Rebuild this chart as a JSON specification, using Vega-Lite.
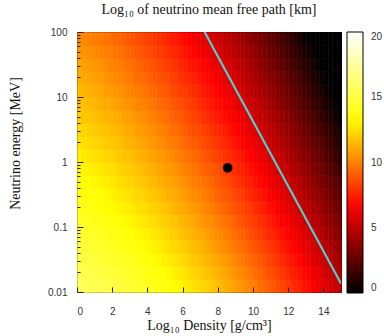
{
  "$schema": "https://vega.github.io/schema/vega-lite/v6.json",
  "width": 264,
  "height": 260,
  "autosize": "none",
  "padding": {"left": 77, "top": 32, "right": 43, "bottom": 44},
  "background": "white",
  "view": {"stroke": "#000", "strokeWidth": 1},
  "title": {"text": "Log₁₀ of neutrino mean free path [km]", "font": "Liberation Serif, DejaVu Serif, serif", "fontSize": 14, "fontWeight": "normal", "color": "#111", "anchor": "middle", "frame": "group", "offset": 10},
  "config": {
    "axis": {"domain": false, "grid": false, "labelFont": "Liberation Sans", "labelFontSize": 10, "labelColor": "#333", "tickColor": "#222", "labelOverlap": false, "titleFont": "Liberation Serif, DejaVu Serif, serif", "titleFontSize": 14, "titleFontWeight": "normal", "titleColor": "#111"}
  },
  "resolve": {"axis": {"x": "independent", "y": "independent"}},
  "layer": [
    {
      "data": {"values": [
{"d":0,"e":-2,"v":15.7},{"d":0,"e":-1.8,"v":15.4},{"d":0,"e":-1.6,"v":15.1},{"d":0,"e":-1.4,"v":14.8},{"d":0,"e":-1.2,"v":14.6},{"d":0,"e":-1,"v":14.3},{"d":0,"e":-0.8,"v":14.0},{"d":0,"e":-0.6,"v":13.7},{"d":0,"e":-0.4,"v":13.4},{"d":0,"e":-0.2,"v":13.1},{"d":0,"e":0,"v":12.9},{"d":0,"e":0.2,"v":12.6},{"d":0,"e":0.4,"v":12.3},{"d":0,"e":0.6,"v":12.0},{"d":0,"e":0.8,"v":11.7},{"d":0,"e":1,"v":11.5},{"d":0,"e":1.2,"v":11.2},{"d":0,"e":1.4,"v":10.9},{"d":0,"e":1.6,"v":10.6},{"d":0,"e":1.8,"v":10.3},
{"d":0.25,"e":-2,"v":15.6},{"d":0.25,"e":-1.8,"v":15.3},{"d":0.25,"e":-1.6,"v":15.0},{"d":0.25,"e":-1.4,"v":14.8},{"d":0.25,"e":-1.2,"v":14.5},{"d":0.25,"e":-1,"v":14.2},{"d":0.25,"e":-0.8,"v":13.9},{"d":0.25,"e":-0.6,"v":13.6},{"d":0.25,"e":-0.4,"v":13.3},{"d":0.25,"e":-0.2,"v":13.1},{"d":0.25,"e":0,"v":12.8},{"d":0.25,"e":0.2,"v":12.5},{"d":0.25,"e":0.4,"v":12.2},{"d":0.25,"e":0.6,"v":11.9},{"d":0.25,"e":0.8,"v":11.7},{"d":0.25,"e":1,"v":11.4},{"d":0.25,"e":1.2,"v":11.1},{"d":0.25,"e":1.4,"v":10.8},{"d":0.25,"e":1.6,"v":10.5},{"d":0.25,"e":1.8,"v":10.2},
{"d":0.5,"e":-2,"v":15.5},{"d":0.5,"e":-1.8,"v":15.2},{"d":0.5,"e":-1.6,"v":15.0},{"d":0.5,"e":-1.4,"v":14.7},{"d":0.5,"e":-1.2,"v":14.4},{"d":0.5,"e":-1,"v":14.1},{"d":0.5,"e":-0.8,"v":13.8},{"d":0.5,"e":-0.6,"v":13.5},{"d":0.5,"e":-0.4,"v":13.3},{"d":0.5,"e":-0.2,"v":13.0},{"d":0.5,"e":0,"v":12.7},{"d":0.5,"e":0.2,"v":12.4},{"d":0.5,"e":0.4,"v":12.1},{"d":0.5,"e":0.6,"v":11.8},{"d":0.5,"e":0.8,"v":11.6},{"d":0.5,"e":1,"v":11.3},{"d":0.5,"e":1.2,"v":11.0},{"d":0.5,"e":1.4,"v":10.7},{"d":0.5,"e":1.6,"v":10.4},{"d":0.5,"e":1.8,"v":10.1},
{"d":0.75,"e":-2,"v":15.4},{"d":0.75,"e":-1.8,"v":15.2},{"d":0.75,"e":-1.6,"v":14.9},{"d":0.75,"e":-1.4,"v":14.6},{"d":0.75,"e":-1.2,"v":14.3},{"d":0.75,"e":-1,"v":14.0},{"d":0.75,"e":-0.8,"v":13.7},{"d":0.75,"e":-0.6,"v":13.5},{"d":0.75,"e":-0.4,"v":13.2},{"d":0.75,"e":-0.2,"v":12.9},{"d":0.75,"e":0,"v":12.6},{"d":0.75,"e":0.2,"v":12.3},{"d":0.75,"e":0.4,"v":12.0},{"d":0.75,"e":0.6,"v":11.7},{"d":0.75,"e":0.8,"v":11.5},{"d":0.75,"e":1,"v":11.2},{"d":0.75,"e":1.2,"v":10.9},{"d":0.75,"e":1.4,"v":10.6},{"d":0.75,"e":1.6,"v":10.3},{"d":0.75,"e":1.8,"v":10.0},
{"d":1,"e":-2,"v":15.4},{"d":1,"e":-1.8,"v":15.1},{"d":1,"e":-1.6,"v":14.8},{"d":1,"e":-1.4,"v":14.5},{"d":1,"e":-1.2,"v":14.2},{"d":1,"e":-1,"v":13.9},{"d":1,"e":-0.8,"v":13.6},{"d":1,"e":-0.6,"v":13.4},{"d":1,"e":-0.4,"v":13.1},{"d":1,"e":-0.2,"v":12.8},{"d":1,"e":0,"v":12.5},{"d":1,"e":0.2,"v":12.2},{"d":1,"e":0.4,"v":11.9},{"d":1,"e":0.6,"v":11.6},{"d":1,"e":0.8,"v":11.4},{"d":1,"e":1,"v":11.1},{"d":1,"e":1.2,"v":10.8},{"d":1,"e":1.4,"v":10.5},{"d":1,"e":1.6,"v":10.2},{"d":1,"e":1.8,"v":9.9},
{"d":1.25,"e":-2,"v":15.3},{"d":1.25,"e":-1.8,"v":15.0},{"d":1.25,"e":-1.6,"v":14.7},{"d":1.25,"e":-1.4,"v":14.4},{"d":1.25,"e":-1.2,"v":14.1},{"d":1.25,"e":-1,"v":13.8},{"d":1.25,"e":-0.8,"v":13.5},{"d":1.25,"e":-0.6,"v":13.3},{"d":1.25,"e":-0.4,"v":13.0},{"d":1.25,"e":-0.2,"v":12.7},{"d":1.25,"e":0,"v":12.4},{"d":1.25,"e":0.2,"v":12.1},{"d":1.25,"e":0.4,"v":11.8},{"d":1.25,"e":0.6,"v":11.5},{"d":1.25,"e":0.8,"v":11.2},{"d":1.25,"e":1,"v":11.0},{"d":1.25,"e":1.2,"v":10.7},{"d":1.25,"e":1.4,"v":10.4},{"d":1.25,"e":1.6,"v":10.1},{"d":1.25,"e":1.8,"v":9.8},
{"d":1.5,"e":-2,"v":15.2},{"d":1.5,"e":-1.8,"v":14.9},{"d":1.5,"e":-1.6,"v":14.6},{"d":1.5,"e":-1.4,"v":14.3},{"d":1.5,"e":-1.2,"v":14.0},{"d":1.5,"e":-1,"v":13.7},{"d":1.5,"e":-0.8,"v":13.4},{"d":1.5,"e":-0.6,"v":13.2},{"d":1.5,"e":-0.4,"v":12.9},{"d":1.5,"e":-0.2,"v":12.6},{"d":1.5,"e":0,"v":12.3},{"d":1.5,"e":0.2,"v":12.0},{"d":1.5,"e":0.4,"v":11.7},{"d":1.5,"e":0.6,"v":11.4},{"d":1.5,"e":0.8,"v":11.1},{"d":1.5,"e":1,"v":10.8},{"d":1.5,"e":1.2,"v":10.6},{"d":1.5,"e":1.4,"v":10.3},{"d":1.5,"e":1.6,"v":10.0},{"d":1.5,"e":1.8,"v":9.7},
{"d":1.75,"e":-2,"v":15.1},{"d":1.75,"e":-1.8,"v":14.8},{"d":1.75,"e":-1.6,"v":14.5},{"d":1.75,"e":-1.4,"v":14.2},{"d":1.75,"e":-1.2,"v":13.9},{"d":1.75,"e":-1,"v":13.6},{"d":1.75,"e":-0.8,"v":13.3},{"d":1.75,"e":-0.6,"v":13.1},{"d":1.75,"e":-0.4,"v":12.8},{"d":1.75,"e":-0.2,"v":12.5},{"d":1.75,"e":0,"v":12.2},{"d":1.75,"e":0.2,"v":11.9},{"d":1.75,"e":0.4,"v":11.6},{"d":1.75,"e":0.6,"v":11.3},{"d":1.75,"e":0.8,"v":11.0},{"d":1.75,"e":1,"v":10.7},{"d":1.75,"e":1.2,"v":10.4},{"d":1.75,"e":1.4,"v":10.1},{"d":1.75,"e":1.6,"v":9.9},{"d":1.75,"e":1.8,"v":9.6},
{"d":2,"e":-2,"v":15.0},{"d":2,"e":-1.8,"v":14.7},{"d":2,"e":-1.6,"v":14.4},{"d":2,"e":-1.4,"v":14.1},{"d":2,"e":-1.2,"v":13.8},{"d":2,"e":-1,"v":13.5},{"d":2,"e":-0.8,"v":13.2},{"d":2,"e":-0.6,"v":12.9},{"d":2,"e":-0.4,"v":12.7},{"d":2,"e":-0.2,"v":12.4},{"d":2,"e":0,"v":12.1},{"d":2,"e":0.2,"v":11.8},{"d":2,"e":0.4,"v":11.5},{"d":2,"e":0.6,"v":11.2},{"d":2,"e":0.8,"v":10.9},{"d":2,"e":1,"v":10.6},{"d":2,"e":1.2,"v":10.3},{"d":2,"e":1.4,"v":10.0},{"d":2,"e":1.6,"v":9.7},{"d":2,"e":1.8,"v":9.4},
{"d":2.25,"e":-2,"v":14.9},{"d":2.25,"e":-1.8,"v":14.6},{"d":2.25,"e":-1.6,"v":14.3},{"d":2.25,"e":-1.4,"v":14.0},{"d":2.25,"e":-1.2,"v":13.7},{"d":2.25,"e":-1,"v":13.4},{"d":2.25,"e":-0.8,"v":13.1},{"d":2.25,"e":-0.6,"v":12.8},{"d":2.25,"e":-0.4,"v":12.5},{"d":2.25,"e":-0.2,"v":12.2},{"d":2.25,"e":0,"v":11.9},{"d":2.25,"e":0.2,"v":11.7},{"d":2.25,"e":0.4,"v":11.4},{"d":2.25,"e":0.6,"v":11.1},{"d":2.25,"e":0.8,"v":10.8},{"d":2.25,"e":1,"v":10.5},{"d":2.25,"e":1.2,"v":10.2},{"d":2.25,"e":1.4,"v":9.9},{"d":2.25,"e":1.6,"v":9.6},{"d":2.25,"e":1.8,"v":9.3},
{"d":2.5,"e":-2,"v":14.8},{"d":2.5,"e":-1.8,"v":14.5},{"d":2.5,"e":-1.6,"v":14.2},{"d":2.5,"e":-1.4,"v":13.9},{"d":2.5,"e":-1.2,"v":13.6},{"d":2.5,"e":-1,"v":13.3},{"d":2.5,"e":-0.8,"v":13.0},{"d":2.5,"e":-0.6,"v":12.7},{"d":2.5,"e":-0.4,"v":12.4},{"d":2.5,"e":-0.2,"v":12.1},{"d":2.5,"e":0,"v":11.8},{"d":2.5,"e":0.2,"v":11.5},{"d":2.5,"e":0.4,"v":11.2},{"d":2.5,"e":0.6,"v":10.9},{"d":2.5,"e":0.8,"v":10.6},{"d":2.5,"e":1,"v":10.4},{"d":2.5,"e":1.2,"v":10.1},{"d":2.5,"e":1.4,"v":9.8},{"d":2.5,"e":1.6,"v":9.5},{"d":2.5,"e":1.8,"v":9.2},
{"d":2.75,"e":-2,"v":14.7},{"d":2.75,"e":-1.8,"v":14.4},{"d":2.75,"e":-1.6,"v":14.1},{"d":2.75,"e":-1.4,"v":13.8},{"d":2.75,"e":-1.2,"v":13.5},{"d":2.75,"e":-1,"v":13.2},{"d":2.75,"e":-0.8,"v":12.9},{"d":2.75,"e":-0.6,"v":12.6},{"d":2.75,"e":-0.4,"v":12.3},{"d":2.75,"e":-0.2,"v":12.0},{"d":2.75,"e":0,"v":11.7},{"d":2.75,"e":0.2,"v":11.4},{"d":2.75,"e":0.4,"v":11.1},{"d":2.75,"e":0.6,"v":10.8},{"d":2.75,"e":0.8,"v":10.5},{"d":2.75,"e":1,"v":10.2},{"d":2.75,"e":1.2,"v":9.9},{"d":2.75,"e":1.4,"v":9.6},{"d":2.75,"e":1.6,"v":9.3},{"d":2.75,"e":1.8,"v":9.0},
{"d":3,"e":-2,"v":14.6},{"d":3,"e":-1.8,"v":14.3},{"d":3,"e":-1.6,"v":14.0},{"d":3,"e":-1.4,"v":13.7},{"d":3,"e":-1.2,"v":13.4},{"d":3,"e":-1,"v":13.1},{"d":3,"e":-0.8,"v":12.8},{"d":3,"e":-0.6,"v":12.5},{"d":3,"e":-0.4,"v":12.2},{"d":3,"e":-0.2,"v":11.9},{"d":3,"e":0,"v":11.6},{"d":3,"e":0.2,"v":11.3},{"d":3,"e":0.4,"v":11.0},{"d":3,"e":0.6,"v":10.7},{"d":3,"e":0.8,"v":10.4},{"d":3,"e":1,"v":10.1},{"d":3,"e":1.2,"v":9.8},{"d":3,"e":1.4,"v":9.5},{"d":3,"e":1.6,"v":9.2},{"d":3,"e":1.8,"v":8.9},
{"d":3.25,"e":-2,"v":14.4},{"d":3.25,"e":-1.8,"v":14.1},{"d":3.25,"e":-1.6,"v":13.8},{"d":3.25,"e":-1.4,"v":13.5},{"d":3.25,"e":-1.2,"v":13.2},{"d":3.25,"e":-1,"v":12.9},{"d":3.25,"e":-0.8,"v":12.6},{"d":3.25,"e":-0.6,"v":12.3},{"d":3.25,"e":-0.4,"v":12.0},{"d":3.25,"e":-0.2,"v":11.7},{"d":3.25,"e":0,"v":11.4},{"d":3.25,"e":0.2,"v":11.1},{"d":3.25,"e":0.4,"v":10.8},{"d":3.25,"e":0.6,"v":10.5},{"d":3.25,"e":0.8,"v":10.2},{"d":3.25,"e":1,"v":9.9},{"d":3.25,"e":1.2,"v":9.6},{"d":3.25,"e":1.4,"v":9.3},{"d":3.25,"e":1.6,"v":9.0},{"d":3.25,"e":1.8,"v":8.7},
{"d":3.5,"e":-2,"v":14.3},{"d":3.5,"e":-1.8,"v":14.0},{"d":3.5,"e":-1.6,"v":13.7},{"d":3.5,"e":-1.4,"v":13.4},{"d":3.5,"e":-1.2,"v":13.1},{"d":3.5,"e":-1,"v":12.8},{"d":3.5,"e":-0.8,"v":12.5},{"d":3.5,"e":-0.6,"v":12.2},{"d":3.5,"e":-0.4,"v":11.9},{"d":3.5,"e":-0.2,"v":11.6},{"d":3.5,"e":0,"v":11.3},{"d":3.5,"e":0.2,"v":11.0},{"d":3.5,"e":0.4,"v":10.7},{"d":3.5,"e":0.6,"v":10.4},{"d":3.5,"e":0.8,"v":10.1},{"d":3.5,"e":1,"v":9.8},{"d":3.5,"e":1.2,"v":9.5},{"d":3.5,"e":1.4,"v":9.2},{"d":3.5,"e":1.6,"v":8.9},{"d":3.5,"e":1.8,"v":8.6},
{"d":3.75,"e":-2,"v":14.2},{"d":3.75,"e":-1.8,"v":13.9},{"d":3.75,"e":-1.6,"v":13.6},{"d":3.75,"e":-1.4,"v":13.3},{"d":3.75,"e":-1.2,"v":13.0},{"d":3.75,"e":-1,"v":12.7},{"d":3.75,"e":-0.8,"v":12.4},{"d":3.75,"e":-0.6,"v":12.1},{"d":3.75,"e":-0.4,"v":11.8},{"d":3.75,"e":-0.2,"v":11.5},{"d":3.75,"e":0,"v":11.2},{"d":3.75,"e":0.2,"v":10.9},{"d":3.75,"e":0.4,"v":10.6},{"d":3.75,"e":0.6,"v":10.3},{"d":3.75,"e":0.8,"v":10.0},{"d":3.75,"e":1,"v":9.7},{"d":3.75,"e":1.2,"v":9.3},{"d":3.75,"e":1.4,"v":9.0},{"d":3.75,"e":1.6,"v":8.7},{"d":3.75,"e":1.8,"v":8.4},
{"d":4,"e":-2,"v":14.1},{"d":4,"e":-1.8,"v":13.8},{"d":4,"e":-1.6,"v":13.5},{"d":4,"e":-1.4,"v":13.2},{"d":4,"e":-1.2,"v":12.9},{"d":4,"e":-1,"v":12.5},{"d":4,"e":-0.8,"v":12.2},{"d":4,"e":-0.6,"v":11.9},{"d":4,"e":-0.4,"v":11.6},{"d":4,"e":-0.2,"v":11.3},{"d":4,"e":0,"v":11.0},{"d":4,"e":0.2,"v":10.7},{"d":4,"e":0.4,"v":10.4},{"d":4,"e":0.6,"v":10.1},{"d":4,"e":0.8,"v":9.8},{"d":4,"e":1,"v":9.5},{"d":4,"e":1.2,"v":9.2},{"d":4,"e":1.4,"v":8.9},{"d":4,"e":1.6,"v":8.6},{"d":4,"e":1.8,"v":8.3},
{"d":4.25,"e":-2,"v":13.9},{"d":4.25,"e":-1.8,"v":13.6},{"d":4.25,"e":-1.6,"v":13.3},{"d":4.25,"e":-1.4,"v":13.0},{"d":4.25,"e":-1.2,"v":12.7},{"d":4.25,"e":-1,"v":12.4},{"d":4.25,"e":-0.8,"v":12.1},{"d":4.25,"e":-0.6,"v":11.8},{"d":4.25,"e":-0.4,"v":11.5},{"d":4.25,"e":-0.2,"v":11.2},{"d":4.25,"e":0,"v":10.9},{"d":4.25,"e":0.2,"v":10.6},{"d":4.25,"e":0.4,"v":10.3},{"d":4.25,"e":0.6,"v":10.0},{"d":4.25,"e":0.8,"v":9.7},{"d":4.25,"e":1,"v":9.3},{"d":4.25,"e":1.2,"v":9.0},{"d":4.25,"e":1.4,"v":8.7},{"d":4.25,"e":1.6,"v":8.4},{"d":4.25,"e":1.8,"v":8.1},
{"d":4.5,"e":-2,"v":13.8},{"d":4.5,"e":-1.8,"v":13.5},{"d":4.5,"e":-1.6,"v":13.2},{"d":4.5,"e":-1.4,"v":12.9},{"d":4.5,"e":-1.2,"v":12.6},{"d":4.5,"e":-1,"v":12.3},{"d":4.5,"e":-0.8,"v":12.0},{"d":4.5,"e":-0.6,"v":11.7},{"d":4.5,"e":-0.4,"v":11.3},{"d":4.5,"e":-0.2,"v":11.0},{"d":4.5,"e":0,"v":10.7},{"d":4.5,"e":0.2,"v":10.4},{"d":4.5,"e":0.4,"v":10.1},{"d":4.5,"e":0.6,"v":9.8},{"d":4.5,"e":0.8,"v":9.5},{"d":4.5,"e":1,"v":9.2},{"d":4.5,"e":1.2,"v":8.9},{"d":4.5,"e":1.4,"v":8.6},{"d":4.5,"e":1.6,"v":8.3},{"d":4.5,"e":1.8,"v":8.0},
{"d":4.75,"e":-2,"v":13.7},{"d":4.75,"e":-1.8,"v":13.4},{"d":4.75,"e":-1.6,"v":13.0},{"d":4.75,"e":-1.4,"v":12.7},{"d":4.75,"e":-1.2,"v":12.4},{"d":4.75,"e":-1,"v":12.1},{"d":4.75,"e":-0.8,"v":11.8},{"d":4.75,"e":-0.6,"v":11.5},{"d":4.75,"e":-0.4,"v":11.2},{"d":4.75,"e":-0.2,"v":10.9},{"d":4.75,"e":0,"v":10.6},{"d":4.75,"e":0.2,"v":10.3},{"d":4.75,"e":0.4,"v":10.0},{"d":4.75,"e":0.6,"v":9.6},{"d":4.75,"e":0.8,"v":9.3},{"d":4.75,"e":1,"v":9.0},{"d":4.75,"e":1.2,"v":8.7},{"d":4.75,"e":1.4,"v":8.4},{"d":4.75,"e":1.6,"v":8.1},{"d":4.75,"e":1.8,"v":7.8},
{"d":5,"e":-2,"v":13.5},{"d":5,"e":-1.8,"v":13.2},{"d":5,"e":-1.6,"v":12.9},{"d":5,"e":-1.4,"v":12.6},{"d":5,"e":-1.2,"v":12.3},{"d":5,"e":-1,"v":12.0},{"d":5,"e":-0.8,"v":11.7},{"d":5,"e":-0.6,"v":11.3},{"d":5,"e":-0.4,"v":11.0},{"d":5,"e":-0.2,"v":10.7},{"d":5,"e":0,"v":10.4},{"d":5,"e":0.2,"v":10.1},{"d":5,"e":0.4,"v":9.8},{"d":5,"e":0.6,"v":9.5},{"d":5,"e":0.8,"v":9.2},{"d":5,"e":1,"v":8.9},{"d":5,"e":1.2,"v":8.6},{"d":5,"e":1.4,"v":8.2},{"d":5,"e":1.6,"v":7.9},{"d":5,"e":1.8,"v":7.6},
{"d":5.25,"e":-2,"v":13.4},{"d":5.25,"e":-1.8,"v":13.1},{"d":5.25,"e":-1.6,"v":12.8},{"d":5.25,"e":-1.4,"v":12.4},{"d":5.25,"e":-1.2,"v":12.1},{"d":5.25,"e":-1,"v":11.8},{"d":5.25,"e":-0.8,"v":11.5},{"d":5.25,"e":-0.6,"v":11.2},{"d":5.25,"e":-0.4,"v":10.9},{"d":5.25,"e":-0.2,"v":10.6},{"d":5.25,"e":0,"v":10.3},{"d":5.25,"e":0.2,"v":9.9},{"d":5.25,"e":0.4,"v":9.6},{"d":5.25,"e":0.6,"v":9.3},{"d":5.25,"e":0.8,"v":9.0},{"d":5.25,"e":1,"v":8.7},{"d":5.25,"e":1.2,"v":8.4},{"d":5.25,"e":1.4,"v":8.1},{"d":5.25,"e":1.6,"v":7.8},{"d":5.25,"e":1.8,"v":7.4},
{"d":5.5,"e":-2,"v":13.2},{"d":5.5,"e":-1.8,"v":12.9},{"d":5.5,"e":-1.6,"v":12.6},{"d":5.5,"e":-1.4,"v":12.3},{"d":5.5,"e":-1.2,"v":12.0},{"d":5.5,"e":-1,"v":11.7},{"d":5.5,"e":-0.8,"v":11.3},{"d":5.5,"e":-0.6,"v":11.0},{"d":5.5,"e":-0.4,"v":10.7},{"d":5.5,"e":-0.2,"v":10.4},{"d":5.5,"e":0,"v":10.1},{"d":5.5,"e":0.2,"v":9.8},{"d":5.5,"e":0.4,"v":9.5},{"d":5.5,"e":0.6,"v":9.1},{"d":5.5,"e":0.8,"v":8.8},{"d":5.5,"e":1,"v":8.5},{"d":5.5,"e":1.2,"v":8.2},{"d":5.5,"e":1.4,"v":7.9},{"d":5.5,"e":1.6,"v":7.6},{"d":5.5,"e":1.8,"v":7.3},
{"d":5.75,"e":-2,"v":13.1},{"d":5.75,"e":-1.8,"v":12.8},{"d":5.75,"e":-1.6,"v":12.4},{"d":5.75,"e":-1.4,"v":12.1},{"d":5.75,"e":-1.2,"v":11.8},{"d":5.75,"e":-1,"v":11.5},{"d":5.75,"e":-0.8,"v":11.2},{"d":5.75,"e":-0.6,"v":10.9},{"d":5.75,"e":-0.4,"v":10.5},{"d":5.75,"e":-0.2,"v":10.2},{"d":5.75,"e":0,"v":9.9},{"d":5.75,"e":0.2,"v":9.6},{"d":5.75,"e":0.4,"v":9.3},{"d":5.75,"e":0.6,"v":9.0},{"d":5.75,"e":0.8,"v":8.7},{"d":5.75,"e":1,"v":8.3},{"d":5.75,"e":1.2,"v":8.0},{"d":5.75,"e":1.4,"v":7.7},{"d":5.75,"e":1.6,"v":7.4},{"d":5.75,"e":1.8,"v":7.1},
{"d":6,"e":-2,"v":12.9},{"d":6,"e":-1.8,"v":12.6},{"d":6,"e":-1.6,"v":12.3},{"d":6,"e":-1.4,"v":12.0},{"d":6,"e":-1.2,"v":11.6},{"d":6,"e":-1,"v":11.3},{"d":6,"e":-0.8,"v":11.0},{"d":6,"e":-0.6,"v":10.7},{"d":6,"e":-0.4,"v":10.4},{"d":6,"e":-0.2,"v":10.1},{"d":6,"e":0,"v":9.7},{"d":6,"e":0.2,"v":9.4},{"d":6,"e":0.4,"v":9.1},{"d":6,"e":0.6,"v":8.8},{"d":6,"e":0.8,"v":8.5},{"d":6,"e":1,"v":8.2},{"d":6,"e":1.2,"v":7.8},{"d":6,"e":1.4,"v":7.5},{"d":6,"e":1.6,"v":7.2},{"d":6,"e":1.8,"v":6.9},
{"d":6.25,"e":-2,"v":12.8},{"d":6.25,"e":-1.8,"v":12.4},{"d":6.25,"e":-1.6,"v":12.1},{"d":6.25,"e":-1.4,"v":11.8},{"d":6.25,"e":-1.2,"v":11.5},{"d":6.25,"e":-1,"v":11.2},{"d":6.25,"e":-0.8,"v":10.8},{"d":6.25,"e":-0.6,"v":10.5},{"d":6.25,"e":-0.4,"v":10.2},{"d":6.25,"e":-0.2,"v":9.9},{"d":6.25,"e":0,"v":9.6},{"d":6.25,"e":0.2,"v":9.2},{"d":6.25,"e":0.4,"v":8.9},{"d":6.25,"e":0.6,"v":8.6},{"d":6.25,"e":0.8,"v":8.3},{"d":6.25,"e":1,"v":8.0},{"d":6.25,"e":1.2,"v":7.7},{"d":6.25,"e":1.4,"v":7.3},{"d":6.25,"e":1.6,"v":7.0},{"d":6.25,"e":1.8,"v":6.7},
{"d":6.5,"e":-2,"v":12.6},{"d":6.5,"e":-1.8,"v":12.3},{"d":6.5,"e":-1.6,"v":11.9},{"d":6.5,"e":-1.4,"v":11.6},{"d":6.5,"e":-1.2,"v":11.3},{"d":6.5,"e":-1,"v":11.0},{"d":6.5,"e":-0.8,"v":10.7},{"d":6.5,"e":-0.6,"v":10.3},{"d":6.5,"e":-0.4,"v":10.0},{"d":6.5,"e":-0.2,"v":9.7},{"d":6.5,"e":0,"v":9.4},{"d":6.5,"e":0.2,"v":9.1},{"d":6.5,"e":0.4,"v":8.7},{"d":6.5,"e":0.6,"v":8.4},{"d":6.5,"e":0.8,"v":8.1},{"d":6.5,"e":1,"v":7.8},{"d":6.5,"e":1.2,"v":7.5},{"d":6.5,"e":1.4,"v":7.1},{"d":6.5,"e":1.6,"v":6.8},{"d":6.5,"e":1.8,"v":6.5},
{"d":6.75,"e":-2,"v":12.4},{"d":6.75,"e":-1.8,"v":12.1},{"d":6.75,"e":-1.6,"v":11.8},{"d":6.75,"e":-1.4,"v":11.5},{"d":6.75,"e":-1.2,"v":11.1},{"d":6.75,"e":-1,"v":10.8},{"d":6.75,"e":-0.8,"v":10.5},{"d":6.75,"e":-0.6,"v":10.2},{"d":6.75,"e":-0.4,"v":9.8},{"d":6.75,"e":-0.2,"v":9.5},{"d":6.75,"e":0,"v":9.2},{"d":6.75,"e":0.2,"v":8.9},{"d":6.75,"e":0.4,"v":8.6},{"d":6.75,"e":0.6,"v":8.2},{"d":6.75,"e":0.8,"v":7.9},{"d":6.75,"e":1,"v":7.6},{"d":6.75,"e":1.2,"v":7.3},{"d":6.75,"e":1.4,"v":7.0},{"d":6.75,"e":1.6,"v":6.6},{"d":6.75,"e":1.8,"v":6.3},
{"d":7,"e":-2,"v":12.2},{"d":7,"e":-1.8,"v":11.9},{"d":7,"e":-1.6,"v":11.6},{"d":7,"e":-1.4,"v":11.3},{"d":7,"e":-1.2,"v":11.0},{"d":7,"e":-1,"v":10.6},{"d":7,"e":-0.8,"v":10.3},{"d":7,"e":-0.6,"v":10.0},{"d":7,"e":-0.4,"v":9.7},{"d":7,"e":-0.2,"v":9.3},{"d":7,"e":0,"v":9.0},{"d":7,"e":0.2,"v":8.7},{"d":7,"e":0.4,"v":8.4},{"d":7,"e":0.6,"v":8.0},{"d":7,"e":0.8,"v":7.7},{"d":7,"e":1,"v":7.4},{"d":7,"e":1.2,"v":7.1},{"d":7,"e":1.4,"v":6.8},{"d":7,"e":1.6,"v":6.4},{"d":7,"e":1.8,"v":6.1},
{"d":7.25,"e":-2,"v":12.1},{"d":7.25,"e":-1.8,"v":11.7},{"d":7.25,"e":-1.6,"v":11.4},{"d":7.25,"e":-1.4,"v":11.1},{"d":7.25,"e":-1.2,"v":10.8},{"d":7.25,"e":-1,"v":10.4},{"d":7.25,"e":-0.8,"v":10.1},{"d":7.25,"e":-0.6,"v":9.8},{"d":7.25,"e":-0.4,"v":9.5},{"d":7.25,"e":-0.2,"v":9.1},{"d":7.25,"e":0,"v":8.8},{"d":7.25,"e":0.2,"v":8.5},{"d":7.25,"e":0.4,"v":8.2},{"d":7.25,"e":0.6,"v":7.8},{"d":7.25,"e":0.8,"v":7.5},{"d":7.25,"e":1,"v":7.2},{"d":7.25,"e":1.2,"v":6.9},{"d":7.25,"e":1.4,"v":6.6},{"d":7.25,"e":1.6,"v":6.2},{"d":7.25,"e":1.8,"v":5.9},
{"d":7.5,"e":-2,"v":11.9},{"d":7.5,"e":-1.8,"v":11.6},{"d":7.5,"e":-1.6,"v":11.2},{"d":7.5,"e":-1.4,"v":10.9},{"d":7.5,"e":-1.2,"v":10.6},{"d":7.5,"e":-1,"v":10.3},{"d":7.5,"e":-0.8,"v":9.9},{"d":7.5,"e":-0.6,"v":9.6},{"d":7.5,"e":-0.4,"v":9.3},{"d":7.5,"e":-0.2,"v":9.0},{"d":7.5,"e":0,"v":8.6},{"d":7.5,"e":0.2,"v":8.3},{"d":7.5,"e":0.4,"v":8.0},{"d":7.5,"e":0.6,"v":7.6},{"d":7.5,"e":0.8,"v":7.3},{"d":7.5,"e":1,"v":7.0},{"d":7.5,"e":1.2,"v":6.7},{"d":7.5,"e":1.4,"v":6.3},{"d":7.5,"e":1.6,"v":6.0},{"d":7.5,"e":1.8,"v":5.7},
{"d":7.75,"e":-2,"v":11.7},{"d":7.75,"e":-1.8,"v":11.4},{"d":7.75,"e":-1.6,"v":11.0},{"d":7.75,"e":-1.4,"v":10.7},{"d":7.75,"e":-1.2,"v":10.4},{"d":7.75,"e":-1,"v":10.1},{"d":7.75,"e":-0.8,"v":9.7},{"d":7.75,"e":-0.6,"v":9.4},{"d":7.75,"e":-0.4,"v":9.1},{"d":7.75,"e":-0.2,"v":8.8},{"d":7.75,"e":0,"v":8.4},{"d":7.75,"e":0.2,"v":8.1},{"d":7.75,"e":0.4,"v":7.8},{"d":7.75,"e":0.6,"v":7.4},{"d":7.75,"e":0.8,"v":7.1},{"d":7.75,"e":1,"v":6.8},{"d":7.75,"e":1.2,"v":6.5},{"d":7.75,"e":1.4,"v":6.1},{"d":7.75,"e":1.6,"v":5.8},{"d":7.75,"e":1.8,"v":5.5},
{"d":8,"e":-2,"v":11.5},{"d":8,"e":-1.8,"v":11.2},{"d":8,"e":-1.6,"v":10.9},{"d":8,"e":-1.4,"v":10.5},{"d":8,"e":-1.2,"v":10.2},{"d":8,"e":-1,"v":9.9},{"d":8,"e":-0.8,"v":9.5},{"d":8,"e":-0.6,"v":9.2},{"d":8,"e":-0.4,"v":8.9},{"d":8,"e":-0.2,"v":8.6},{"d":8,"e":0,"v":8.2},{"d":8,"e":0.2,"v":7.9},{"d":8,"e":0.4,"v":7.6},{"d":8,"e":0.6,"v":7.2},{"d":8,"e":0.8,"v":6.9},{"d":8,"e":1,"v":6.6},{"d":8,"e":1.2,"v":6.3},{"d":8,"e":1.4,"v":5.9},{"d":8,"e":1.6,"v":5.6},{"d":8,"e":1.8,"v":5.3},
{"d":8.25,"e":-2,"v":11.3},{"d":8.25,"e":-1.8,"v":11.0},{"d":8.25,"e":-1.6,"v":10.7},{"d":8.25,"e":-1.4,"v":10.3},{"d":8.25,"e":-1.2,"v":10.0},{"d":8.25,"e":-1,"v":9.7},{"d":8.25,"e":-0.8,"v":9.3},{"d":8.25,"e":-0.6,"v":9.0},{"d":8.25,"e":-0.4,"v":8.7},{"d":8.25,"e":-0.2,"v":8.3},{"d":8.25,"e":0,"v":8.0},{"d":8.25,"e":0.2,"v":7.7},{"d":8.25,"e":0.4,"v":7.4},{"d":8.25,"e":0.6,"v":7.0},{"d":8.25,"e":0.8,"v":6.7},{"d":8.25,"e":1,"v":6.4},{"d":8.25,"e":1.2,"v":6.0},{"d":8.25,"e":1.4,"v":5.7},{"d":8.25,"e":1.6,"v":5.4},{"d":8.25,"e":1.8,"v":5.0},
{"d":8.5,"e":-2,"v":11.1},{"d":8.5,"e":-1.8,"v":10.8},{"d":8.5,"e":-1.6,"v":10.5},{"d":8.5,"e":-1.4,"v":10.1},{"d":8.5,"e":-1.2,"v":9.8},{"d":8.5,"e":-1,"v":9.5},{"d":8.5,"e":-0.8,"v":9.1},{"d":8.5,"e":-0.6,"v":8.8},{"d":8.5,"e":-0.4,"v":8.5},{"d":8.5,"e":-0.2,"v":8.1},{"d":8.5,"e":0,"v":7.8},{"d":8.5,"e":0.2,"v":7.5},{"d":8.5,"e":0.4,"v":7.1},{"d":8.5,"e":0.6,"v":6.8},{"d":8.5,"e":0.8,"v":6.5},{"d":8.5,"e":1,"v":6.1},{"d":8.5,"e":1.2,"v":5.8},{"d":8.5,"e":1.4,"v":5.5},{"d":8.5,"e":1.6,"v":5.2},{"d":8.5,"e":1.8,"v":4.8},
{"d":8.75,"e":-2,"v":10.9},{"d":8.75,"e":-1.8,"v":10.6},{"d":8.75,"e":-1.6,"v":10.3},{"d":8.75,"e":-1.4,"v":9.9},{"d":8.75,"e":-1.2,"v":9.6},{"d":8.75,"e":-1,"v":9.3},{"d":8.75,"e":-0.8,"v":8.9},{"d":8.75,"e":-0.6,"v":8.6},{"d":8.75,"e":-0.4,"v":8.3},{"d":8.75,"e":-0.2,"v":7.9},{"d":8.75,"e":0,"v":7.6},{"d":8.75,"e":0.2,"v":7.3},{"d":8.75,"e":0.4,"v":6.9},{"d":8.75,"e":0.6,"v":6.6},{"d":8.75,"e":0.8,"v":6.3},{"d":8.75,"e":1,"v":5.9},{"d":8.75,"e":1.2,"v":5.6},{"d":8.75,"e":1.4,"v":5.3},{"d":8.75,"e":1.6,"v":4.9},{"d":8.75,"e":1.8,"v":4.6},
{"d":9,"e":-2,"v":10.7},{"d":9,"e":-1.8,"v":10.4},{"d":9,"e":-1.6,"v":10.1},{"d":9,"e":-1.4,"v":9.7},{"d":9,"e":-1.2,"v":9.4},{"d":9,"e":-1,"v":9.0},{"d":9,"e":-0.8,"v":8.7},{"d":9,"e":-0.6,"v":8.4},{"d":9,"e":-0.4,"v":8.0},{"d":9,"e":-0.2,"v":7.7},{"d":9,"e":0,"v":7.4},{"d":9,"e":0.2,"v":7.0},{"d":9,"e":0.4,"v":6.7},{"d":9,"e":0.6,"v":6.4},{"d":9,"e":0.8,"v":6.0},{"d":9,"e":1,"v":5.7},{"d":9,"e":1.2,"v":5.4},{"d":9,"e":1.4,"v":5.0},{"d":9,"e":1.6,"v":4.7},{"d":9,"e":1.8,"v":4.4},
{"d":9.25,"e":-2,"v":10.5},{"d":9.25,"e":-1.8,"v":10.2},{"d":9.25,"e":-1.6,"v":9.8},{"d":9.25,"e":-1.4,"v":9.5},{"d":9.25,"e":-1.2,"v":9.2},{"d":9.25,"e":-1,"v":8.8},{"d":9.25,"e":-0.8,"v":8.5},{"d":9.25,"e":-0.6,"v":8.2},{"d":9.25,"e":-0.4,"v":7.8},{"d":9.25,"e":-0.2,"v":7.5},{"d":9.25,"e":0,"v":7.2},{"d":9.25,"e":0.2,"v":6.8},{"d":9.25,"e":0.4,"v":6.5},{"d":9.25,"e":0.6,"v":6.1},{"d":9.25,"e":0.8,"v":5.8},{"d":9.25,"e":1,"v":5.5},{"d":9.25,"e":1.2,"v":5.1},{"d":9.25,"e":1.4,"v":4.8},{"d":9.25,"e":1.6,"v":4.5},{"d":9.25,"e":1.8,"v":4.1},
{"d":9.5,"e":-2,"v":10.3},{"d":9.5,"e":-1.8,"v":10.0},{"d":9.5,"e":-1.6,"v":9.6},{"d":9.5,"e":-1.4,"v":9.3},{"d":9.5,"e":-1.2,"v":9.0},{"d":9.5,"e":-1,"v":8.6},{"d":9.5,"e":-0.8,"v":8.3},{"d":9.5,"e":-0.6,"v":7.9},{"d":9.5,"e":-0.4,"v":7.6},{"d":9.5,"e":-0.2,"v":7.3},{"d":9.5,"e":0,"v":6.9},{"d":9.5,"e":0.2,"v":6.6},{"d":9.5,"e":0.4,"v":6.2},{"d":9.5,"e":0.6,"v":5.9},{"d":9.5,"e":0.8,"v":5.6},{"d":9.5,"e":1,"v":5.2},{"d":9.5,"e":1.2,"v":4.9},{"d":9.5,"e":1.4,"v":4.6},{"d":9.5,"e":1.6,"v":4.2},{"d":9.5,"e":1.8,"v":3.9},
{"d":9.75,"e":-2,"v":10.1},{"d":9.75,"e":-1.8,"v":9.8},{"d":9.75,"e":-1.6,"v":9.4},{"d":9.75,"e":-1.4,"v":9.1},{"d":9.75,"e":-1.2,"v":8.7},{"d":9.75,"e":-1,"v":8.4},{"d":9.75,"e":-0.8,"v":8.1},{"d":9.75,"e":-0.6,"v":7.7},{"d":9.75,"e":-0.4,"v":7.4},{"d":9.75,"e":-0.2,"v":7.0},{"d":9.75,"e":0,"v":6.7},{"d":9.75,"e":0.2,"v":6.4},{"d":9.75,"e":0.4,"v":6.0},{"d":9.75,"e":0.6,"v":5.7},{"d":9.75,"e":0.8,"v":5.3},{"d":9.75,"e":1,"v":5.0},{"d":9.75,"e":1.2,"v":4.7},{"d":9.75,"e":1.4,"v":4.3},{"d":9.75,"e":1.6,"v":4.0},{"d":9.75,"e":1.8,"v":3.6},
{"d":10,"e":-2,"v":9.9},{"d":10,"e":-1.8,"v":9.5},{"d":10,"e":-1.6,"v":9.2},{"d":10,"e":-1.4,"v":8.8},{"d":10,"e":-1.2,"v":8.5},{"d":10,"e":-1,"v":8.2},{"d":10,"e":-0.8,"v":7.8},{"d":10,"e":-0.6,"v":7.5},{"d":10,"e":-0.4,"v":7.1},{"d":10,"e":-0.2,"v":6.8},{"d":10,"e":0,"v":6.5},{"d":10,"e":0.2,"v":6.1},{"d":10,"e":0.4,"v":5.8},{"d":10,"e":0.6,"v":5.4},{"d":10,"e":0.8,"v":5.1},{"d":10,"e":1,"v":4.8},{"d":10,"e":1.2,"v":4.4},{"d":10,"e":1.4,"v":4.1},{"d":10,"e":1.6,"v":3.7},{"d":10,"e":1.8,"v":3.4},
{"d":10.25,"e":-2,"v":9.6},{"d":10.25,"e":-1.8,"v":9.3},{"d":10.25,"e":-1.6,"v":9.0},{"d":10.25,"e":-1.4,"v":8.6},{"d":10.25,"e":-1.2,"v":8.3},{"d":10.25,"e":-1,"v":7.9},{"d":10.25,"e":-0.8,"v":7.6},{"d":10.25,"e":-0.6,"v":7.3},{"d":10.25,"e":-0.4,"v":6.9},{"d":10.25,"e":-0.2,"v":6.6},{"d":10.25,"e":0,"v":6.2},{"d":10.25,"e":0.2,"v":5.9},{"d":10.25,"e":0.4,"v":5.5},{"d":10.25,"e":0.6,"v":5.2},{"d":10.25,"e":0.8,"v":4.9},{"d":10.25,"e":1,"v":4.5},{"d":10.25,"e":1.2,"v":4.2},{"d":10.25,"e":1.4,"v":3.8},{"d":10.25,"e":1.6,"v":3.5},{"d":10.25,"e":1.8,"v":3.1},
{"d":10.5,"e":-2,"v":9.4},{"d":10.5,"e":-1.8,"v":9.1},{"d":10.5,"e":-1.6,"v":8.7},{"d":10.5,"e":-1.4,"v":8.4},{"d":10.5,"e":-1.2,"v":8.0},{"d":10.5,"e":-1,"v":7.7},{"d":10.5,"e":-0.8,"v":7.4},{"d":10.5,"e":-0.6,"v":7.0},{"d":10.5,"e":-0.4,"v":6.7},{"d":10.5,"e":-0.2,"v":6.3},{"d":10.5,"e":0,"v":6.0},{"d":10.5,"e":0.2,"v":5.6},{"d":10.5,"e":0.4,"v":5.3},{"d":10.5,"e":0.6,"v":5.0},{"d":10.5,"e":0.8,"v":4.6},{"d":10.5,"e":1,"v":4.3},{"d":10.5,"e":1.2,"v":3.9},{"d":10.5,"e":1.4,"v":3.6},{"d":10.5,"e":1.6,"v":3.2},{"d":10.5,"e":1.8,"v":2.9},
{"d":10.75,"e":-2,"v":9.2},{"d":10.75,"e":-1.8,"v":8.8},{"d":10.75,"e":-1.6,"v":8.5},{"d":10.75,"e":-1.4,"v":8.2},{"d":10.75,"e":-1.2,"v":7.8},{"d":10.75,"e":-1,"v":7.5},{"d":10.75,"e":-0.8,"v":7.1},{"d":10.75,"e":-0.6,"v":6.8},{"d":10.75,"e":-0.4,"v":6.4},{"d":10.75,"e":-0.2,"v":6.1},{"d":10.75,"e":0,"v":5.7},{"d":10.75,"e":0.2,"v":5.4},{"d":10.75,"e":0.4,"v":5.0},{"d":10.75,"e":0.6,"v":4.7},{"d":10.75,"e":0.8,"v":4.4},{"d":10.75,"e":1,"v":4.0},{"d":10.75,"e":1.2,"v":3.7},{"d":10.75,"e":1.4,"v":3.3},{"d":10.75,"e":1.6,"v":3.0},{"d":10.75,"e":1.8,"v":2.6},
{"d":11,"e":-2,"v":9.0},{"d":11,"e":-1.8,"v":8.6},{"d":11,"e":-1.6,"v":8.3},{"d":11,"e":-1.4,"v":7.9},{"d":11,"e":-1.2,"v":7.6},{"d":11,"e":-1,"v":7.2},{"d":11,"e":-0.8,"v":6.9},{"d":11,"e":-0.6,"v":6.5},{"d":11,"e":-0.4,"v":6.2},{"d":11,"e":-0.2,"v":5.8},{"d":11,"e":0,"v":5.5},{"d":11,"e":0.2,"v":5.1},{"d":11,"e":0.4,"v":4.8},{"d":11,"e":0.6,"v":4.5},{"d":11,"e":0.8,"v":4.1},{"d":11,"e":1,"v":3.8},{"d":11,"e":1.2,"v":3.4},{"d":11,"e":1.4,"v":3.1},{"d":11,"e":1.6,"v":2.7},{"d":11,"e":1.8,"v":2.4},
{"d":11.25,"e":-2,"v":8.7},{"d":11.25,"e":-1.8,"v":8.4},{"d":11.25,"e":-1.6,"v":8.0},{"d":11.25,"e":-1.4,"v":7.7},{"d":11.25,"e":-1.2,"v":7.3},{"d":11.25,"e":-1,"v":7.0},{"d":11.25,"e":-0.8,"v":6.6},{"d":11.25,"e":-0.6,"v":6.3},{"d":11.25,"e":-0.4,"v":5.9},{"d":11.25,"e":-0.2,"v":5.6},{"d":11.25,"e":0,"v":5.2},{"d":11.25,"e":0.2,"v":4.9},{"d":11.25,"e":0.4,"v":4.5},{"d":11.25,"e":0.6,"v":4.2},{"d":11.25,"e":0.8,"v":3.8},{"d":11.25,"e":1,"v":3.5},{"d":11.25,"e":1.2,"v":3.2},{"d":11.25,"e":1.4,"v":2.8},{"d":11.25,"e":1.6,"v":2.5},{"d":11.25,"e":1.8,"v":2.1},
{"d":11.5,"e":-2,"v":8.5},{"d":11.5,"e":-1.8,"v":8.1},{"d":11.5,"e":-1.6,"v":7.8},{"d":11.5,"e":-1.4,"v":7.4},{"d":11.5,"e":-1.2,"v":7.1},{"d":11.5,"e":-1,"v":6.7},{"d":11.5,"e":-0.8,"v":6.4},{"d":11.5,"e":-0.6,"v":6.0},{"d":11.5,"e":-0.4,"v":5.7},{"d":11.5,"e":-0.2,"v":5.3},{"d":11.5,"e":0,"v":5.0},{"d":11.5,"e":0.2,"v":4.6},{"d":11.5,"e":0.4,"v":4.3},{"d":11.5,"e":0.6,"v":3.9},{"d":11.5,"e":0.8,"v":3.6},{"d":11.5,"e":1,"v":3.2},{"d":11.5,"e":1.2,"v":2.9},{"d":11.5,"e":1.4,"v":2.5},{"d":11.5,"e":1.6,"v":2.2},{"d":11.5,"e":1.8,"v":1.8},
{"d":11.75,"e":-2,"v":8.2},{"d":11.75,"e":-1.8,"v":7.9},{"d":11.75,"e":-1.6,"v":7.5},{"d":11.75,"e":-1.4,"v":7.2},{"d":11.75,"e":-1.2,"v":6.8},{"d":11.75,"e":-1,"v":6.5},{"d":11.75,"e":-0.8,"v":6.1},{"d":11.75,"e":-0.6,"v":5.8},{"d":11.75,"e":-0.4,"v":5.4},{"d":11.75,"e":-0.2,"v":5.1},{"d":11.75,"e":0,"v":4.7},{"d":11.75,"e":0.2,"v":4.4},{"d":11.75,"e":0.4,"v":4.0},{"d":11.75,"e":0.6,"v":3.7},{"d":11.75,"e":0.8,"v":3.3},{"d":11.75,"e":1,"v":3.0},{"d":11.75,"e":1.2,"v":2.6},{"d":11.75,"e":1.4,"v":2.3},{"d":11.75,"e":1.6,"v":1.9},{"d":11.75,"e":1.8,"v":1.6},
{"d":12,"e":-2,"v":8.0},{"d":12,"e":-1.8,"v":7.6},{"d":12,"e":-1.6,"v":7.3},{"d":12,"e":-1.4,"v":6.9},{"d":12,"e":-1.2,"v":6.6},{"d":12,"e":-1,"v":6.2},{"d":12,"e":-0.8,"v":5.9},{"d":12,"e":-0.6,"v":5.5},{"d":12,"e":-0.4,"v":5.2},{"d":12,"e":-0.2,"v":4.8},{"d":12,"e":0,"v":4.5},{"d":12,"e":0.2,"v":4.1},{"d":12,"e":0.4,"v":3.8},{"d":12,"e":0.6,"v":3.4},{"d":12,"e":0.8,"v":3.1},{"d":12,"e":1,"v":2.7},{"d":12,"e":1.2,"v":2.3},{"d":12,"e":1.4,"v":2.0},{"d":12,"e":1.6,"v":1.6},{"d":12,"e":1.8,"v":1.3},
{"d":12.25,"e":-2,"v":7.7},{"d":12.25,"e":-1.8,"v":7.4},{"d":12.25,"e":-1.6,"v":7.0},{"d":12.25,"e":-1.4,"v":6.7},{"d":12.25,"e":-1.2,"v":6.3},{"d":12.25,"e":-1,"v":6.0},{"d":12.25,"e":-0.8,"v":5.6},{"d":12.25,"e":-0.6,"v":5.3},{"d":12.25,"e":-0.4,"v":4.9},{"d":12.25,"e":-0.2,"v":4.5},{"d":12.25,"e":0,"v":4.2},{"d":12.25,"e":0.2,"v":3.8},{"d":12.25,"e":0.4,"v":3.5},{"d":12.25,"e":0.6,"v":3.1},{"d":12.25,"e":0.8,"v":2.8},{"d":12.25,"e":1,"v":2.4},{"d":12.25,"e":1.2,"v":2.1},{"d":12.25,"e":1.4,"v":1.7},{"d":12.25,"e":1.6,"v":1.4},{"d":12.25,"e":1.8,"v":1.0},
{"d":12.5,"e":-2,"v":7.5},{"d":12.5,"e":-1.8,"v":7.1},{"d":12.5,"e":-1.6,"v":6.8},{"d":12.5,"e":-1.4,"v":6.4},{"d":12.5,"e":-1.2,"v":6.1},{"d":12.5,"e":-1,"v":5.7},{"d":12.5,"e":-0.8,"v":5.3},{"d":12.5,"e":-0.6,"v":5.0},{"d":12.5,"e":-0.4,"v":4.6},{"d":12.5,"e":-0.2,"v":4.3},{"d":12.5,"e":0,"v":3.9},{"d":12.5,"e":0.2,"v":3.6},{"d":12.5,"e":0.4,"v":3.2},{"d":12.5,"e":0.6,"v":2.9},{"d":12.5,"e":0.8,"v":2.5},{"d":12.5,"e":1,"v":2.1},{"d":12.5,"e":1.2,"v":1.8},{"d":12.5,"e":1.4,"v":1.4},{"d":12.5,"e":1.6,"v":1.1},{"d":12.5,"e":1.8,"v":0.7},
{"d":12.75,"e":-2,"v":7.2},{"d":12.75,"e":-1.8,"v":6.9},{"d":12.75,"e":-1.6,"v":6.5},{"d":12.75,"e":-1.4,"v":6.1},{"d":12.75,"e":-1.2,"v":5.8},{"d":12.75,"e":-1,"v":5.4},{"d":12.75,"e":-0.8,"v":5.1},{"d":12.75,"e":-0.6,"v":4.7},{"d":12.75,"e":-0.4,"v":4.4},{"d":12.75,"e":-0.2,"v":4.0},{"d":12.75,"e":0,"v":3.6},{"d":12.75,"e":0.2,"v":3.3},{"d":12.75,"e":0.4,"v":2.9},{"d":12.75,"e":0.6,"v":2.6},{"d":12.75,"e":0.8,"v":2.2},{"d":12.75,"e":1,"v":1.9},{"d":12.75,"e":1.2,"v":1.5},{"d":12.75,"e":1.4,"v":1.1},{"d":12.75,"e":1.6,"v":0.8},{"d":12.75,"e":1.8,"v":0.4},
{"d":13,"e":-2,"v":7.0},{"d":13,"e":-1.8,"v":6.6},{"d":13,"e":-1.6,"v":6.2},{"d":13,"e":-1.4,"v":5.9},{"d":13,"e":-1.2,"v":5.5},{"d":13,"e":-1,"v":5.2},{"d":13,"e":-0.8,"v":4.8},{"d":13,"e":-0.6,"v":4.4},{"d":13,"e":-0.4,"v":4.1},{"d":13,"e":-0.2,"v":3.7},{"d":13,"e":0,"v":3.4},{"d":13,"e":0.2,"v":3.0},{"d":13,"e":0.4,"v":2.7},{"d":13,"e":0.6,"v":2.3},{"d":13,"e":0.8,"v":1.9},{"d":13,"e":1,"v":1.6},{"d":13,"e":1.2,"v":1.2},{"d":13,"e":1.4,"v":0.9},{"d":13,"e":1.6,"v":0.5},{"d":13,"e":1.8,"v":0.1},
{"d":13.25,"e":-2,"v":6.7},{"d":13.25,"e":-1.8,"v":6.3},{"d":13.25,"e":-1.6,"v":6.0},{"d":13.25,"e":-1.4,"v":5.6},{"d":13.25,"e":-1.2,"v":5.3},{"d":13.25,"e":-1,"v":4.9},{"d":13.25,"e":-0.8,"v":4.5},{"d":13.25,"e":-0.6,"v":4.2},{"d":13.25,"e":-0.4,"v":3.8},{"d":13.25,"e":-0.2,"v":3.4},{"d":13.25,"e":0,"v":3.1},{"d":13.25,"e":0.2,"v":2.7},{"d":13.25,"e":0.4,"v":2.4},{"d":13.25,"e":0.6,"v":2.0},{"d":13.25,"e":0.8,"v":1.6},{"d":13.25,"e":1,"v":1.3},{"d":13.25,"e":1.2,"v":0.9},{"d":13.25,"e":1.4,"v":0.6},{"d":13.25,"e":1.6,"v":0.2},{"d":13.25,"e":1.8,"v":-0.2},
{"d":13.5,"e":-2,"v":6.4},{"d":13.5,"e":-1.8,"v":6.1},{"d":13.5,"e":-1.6,"v":5.7},{"d":13.5,"e":-1.4,"v":5.3},{"d":13.5,"e":-1.2,"v":5.0},{"d":13.5,"e":-1,"v":4.6},{"d":13.5,"e":-0.8,"v":4.3},{"d":13.5,"e":-0.6,"v":3.9},{"d":13.5,"e":-0.4,"v":3.5},{"d":13.5,"e":-0.2,"v":3.2},{"d":13.5,"e":0,"v":2.8},{"d":13.5,"e":0.2,"v":2.4},{"d":13.5,"e":0.4,"v":2.1},{"d":13.5,"e":0.6,"v":1.7},{"d":13.5,"e":0.8,"v":1.4},{"d":13.5,"e":1,"v":1.0},{"d":13.5,"e":1.2,"v":0.6},{"d":13.5,"e":1.4,"v":0.3},{"d":13.5,"e":1.6,"v":-0.1},{"d":13.5,"e":1.8,"v":-0.5},
{"d":13.75,"e":-2,"v":6.1},{"d":13.75,"e":-1.8,"v":5.8},{"d":13.75,"e":-1.6,"v":5.4},{"d":13.75,"e":-1.4,"v":5.1},{"d":13.75,"e":-1.2,"v":4.7},{"d":13.75,"e":-1,"v":4.3},{"d":13.75,"e":-0.8,"v":4.0},{"d":13.75,"e":-0.6,"v":3.6},{"d":13.75,"e":-0.4,"v":3.2},{"d":13.75,"e":-0.2,"v":2.9},{"d":13.75,"e":0,"v":2.5},{"d":13.75,"e":0.2,"v":2.2},{"d":13.75,"e":0.4,"v":1.8},{"d":13.75,"e":0.6,"v":1.4},{"d":13.75,"e":0.8,"v":1.1},{"d":13.75,"e":1,"v":0.7},{"d":13.75,"e":1.2,"v":0.3},{"d":13.75,"e":1.4,"v":0.0},{"d":13.75,"e":1.6,"v":-0.4},{"d":13.75,"e":1.8,"v":-0.8},
{"d":14,"e":-2,"v":5.9},{"d":14,"e":-1.8,"v":5.5},{"d":14,"e":-1.6,"v":5.1},{"d":14,"e":-1.4,"v":4.8},{"d":14,"e":-1.2,"v":4.4},{"d":14,"e":-1,"v":4.0},{"d":14,"e":-0.8,"v":3.7},{"d":14,"e":-0.6,"v":3.3},{"d":14,"e":-0.4,"v":2.9},{"d":14,"e":-0.2,"v":2.6},{"d":14,"e":0,"v":2.2},{"d":14,"e":0.2,"v":1.9},{"d":14,"e":0.4,"v":1.5},{"d":14,"e":0.6,"v":1.1},{"d":14,"e":0.8,"v":0.8},{"d":14,"e":1,"v":0.4},{"d":14,"e":1.2,"v":0.0},{"d":14,"e":1.4,"v":-0.3},{"d":14,"e":1.6,"v":-0.7},{"d":14,"e":1.8,"v":-1.1},
{"d":14.25,"e":-2,"v":5.6},{"d":14.25,"e":-1.8,"v":5.2},{"d":14.25,"e":-1.6,"v":4.9},{"d":14.25,"e":-1.4,"v":4.5},{"d":14.25,"e":-1.2,"v":4.1},{"d":14.25,"e":-1,"v":3.8},{"d":14.25,"e":-0.8,"v":3.4},{"d":14.25,"e":-0.6,"v":3.0},{"d":14.25,"e":-0.4,"v":2.7},{"d":14.25,"e":-0.2,"v":2.3},{"d":14.25,"e":0,"v":1.9},{"d":14.25,"e":0.2,"v":1.6},{"d":14.25,"e":0.4,"v":1.2},{"d":14.25,"e":0.6,"v":0.8},{"d":14.25,"e":0.8,"v":0.5},{"d":14.25,"e":1,"v":0.1},{"d":14.25,"e":1.2,"v":-0.3},{"d":14.25,"e":1.4,"v":-0.6},{"d":14.25,"e":1.6,"v":-1.0},{"d":14.25,"e":1.8,"v":-1.4},
{"d":14.5,"e":-2,"v":5.3},{"d":14.5,"e":-1.8,"v":4.9},{"d":14.5,"e":-1.6,"v":4.6},{"d":14.5,"e":-1.4,"v":4.2},{"d":14.5,"e":-1.2,"v":3.8},{"d":14.5,"e":-1,"v":3.5},{"d":14.5,"e":-0.8,"v":3.1},{"d":14.5,"e":-0.6,"v":2.7},{"d":14.5,"e":-0.4,"v":2.4},{"d":14.5,"e":-0.2,"v":2.0},{"d":14.5,"e":0,"v":1.6},{"d":14.5,"e":0.2,"v":1.3},{"d":14.5,"e":0.4,"v":0.9},{"d":14.5,"e":0.6,"v":0.5},{"d":14.5,"e":0.8,"v":0.2},{"d":14.5,"e":1,"v":-0.2},{"d":14.5,"e":1.2,"v":-0.6},{"d":14.5,"e":1.4,"v":-1.0},{"d":14.5,"e":1.6,"v":-1.3},{"d":14.5,"e":1.8,"v":-1.7},
{"d":14.75,"e":-2,"v":5.0},{"d":14.75,"e":-1.8,"v":4.6},{"d":14.75,"e":-1.6,"v":4.3},{"d":14.75,"e":-1.4,"v":3.9},{"d":14.75,"e":-1.2,"v":3.5},{"d":14.75,"e":-1,"v":3.2},{"d":14.75,"e":-0.8,"v":2.8},{"d":14.75,"e":-0.6,"v":2.4},{"d":14.75,"e":-0.4,"v":2.1},{"d":14.75,"e":-0.2,"v":1.7},{"d":14.75,"e":0,"v":1.3},{"d":14.75,"e":0.2,"v":0.9},{"d":14.75,"e":0.4,"v":0.6},{"d":14.75,"e":0.6,"v":0.2},{"d":14.75,"e":0.8,"v":-0.2},{"d":14.75,"e":1,"v":-0.5},{"d":14.75,"e":1.2,"v":-0.9},{"d":14.75,"e":1.4,"v":-1.3},{"d":14.75,"e":1.6,"v":-1.6},{"d":14.75,"e":1.8,"v":-2.0}
      ]},
      "mark": {"type": "rect", "stroke": {"expr": "scale('color', datum.v)"}, "strokeWidth": 0.6},
      "encoding": {
        "x": {"field": "d", "type": "quantitative", "bin": {"binned": true, "step": 0.25}, "scale": {"domain": [0, 15], "nice": false, "zero": false},
          "axis": {"orient": "bottom", "values": [0, 2, 4, 6, 8, 10, 12, 14], "format": "d", "tickSize": -5, "labelPadding": 19, "title": "Log₁₀ Density [g/cm³]", "titleY": 37, "titleBaseline": "alphabetic"}},
        "y": {"field": "e", "type": "quantitative", "bin": {"binned": true, "step": 0.2}, "scale": {"domain": [-2, 2], "nice": false, "zero": false},
          "axis": {"orient": "left",
            "values": [-2, -1.69897, -1.52288, -1.39794, -1.30103, -1.22185, -1.1549, -1.09691, -1.04576, -1, -0.69897, -0.52288, -0.39794, -0.30103, -0.22185, -0.1549, -0.09691, -0.04576, 0, 0.30103, 0.47712, 0.60206, 0.69897, 0.77815, 0.8451, 0.90309, 0.95424, 1, 1.30103, 1.47712, 1.60206, 1.69897, 1.77815, 1.8451, 1.90309, 1.95424, 2],
            "labelExpr": "datum.value == -2 ? '0.01' : datum.value == -1 ? '0.1' : datum.value == 0 ? '1' : datum.value == 1 ? '10' : datum.value == 2 ? '100' : ''",
            "tickSize": {"condition": {"test": "datum.value == round(datum.value)", "value": -6}, "value": -3},
            "labelPadding": 16, "title": "Neutrino energy [MeV]", "titleY": 111, "titleX": -55}},
        "color": {"field": "v", "type": "quantitative",
          "scale": {"domain": [0, 6.6667, 13.3333, 20], "range": ["#000000", "#ff0000", "#ffff00", "#ffffff"], "clamp": true, "interpolate": "rgb"},
          "legend": {"type": "gradient", "orient": "right", "offset": 5, "direction": "vertical", "title": null, "gradientLength": 261, "gradientThickness": 16, "values": [0, 5, 10, 15, 20], "labelFont": "Liberation Sans", "labelFontSize": 10, "labelColor": "#333", "labelOffset": 8, "gradientStrokeColor": "#000", "gradientStrokeWidth": 1}}
      }
    },
    {
      "data": {"values": [{"d": 7.25, "e": 2}, {"d": 15, "e": -1.87}]},
      "mark": {"type": "line", "color": "#4fcfcf", "strokeWidth": 2.2, "clip": true},
      "encoding": {
        "x": {"field": "d", "type": "quantitative", "axis": {"orient": "top", "values": [2, 4, 6, 8, 10, 12, 14], "labels": false, "tickSize": -5, "title": null}},
        "y": {"field": "e", "type": "quantitative", "axis": {"orient": "right", "labels": false, "title": null,
          "values": [-1.69897, -1.52288, -1.39794, -1.30103, -1.22185, -1.1549, -1.09691, -1.04576, -1, -0.69897, -0.52288, -0.39794, -0.30103, -0.22185, -0.1549, -0.09691, -0.04576, 0, 0.30103, 0.47712, 0.60206, 0.69897, 0.77815, 0.8451, 0.90309, 0.95424, 1, 1.30103, 1.47712, 1.60206, 1.69897, 1.77815, 1.8451, 1.90309, 1.95424],
          "tickSize": {"condition": {"test": "datum.value == round(datum.value)", "value": -6}, "value": -3}}}
      }
    },
    {
      "data": {"values": [{"d": 8.56, "e": -0.09}]},
      "mark": {"type": "circle", "color": "#000", "opacity": 1, "size": 95},
      "encoding": {
        "x": {"field": "d", "type": "quantitative", "axis": null},
        "y": {"field": "e", "type": "quantitative", "axis": null}
      }
    }
  ]
}
